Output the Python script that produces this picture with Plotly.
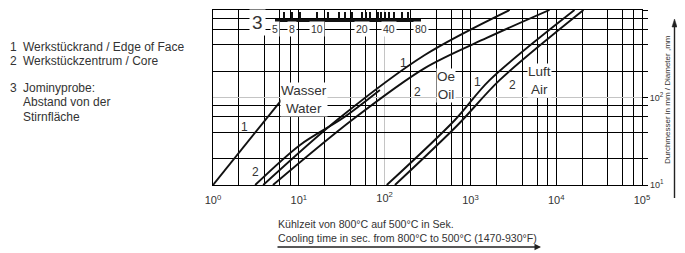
import numpy as np
import plotly.graph_objects as go

# ---------------- data ----------------
water_edge_t = [1.0, 6.4]
water_edge_d = [10, 96]
water_core_t = [3.1, 10.35, 32.7, 88.2]
water_core_d = [10, 28.7, 58.3, 122]
oil_edge_t = [3.85, 27.9, 294, 2870]
oil_edge_d = [10, 55.3, 306, 1000]
oil_core_t = [5.0, 41.7, 294, 1549, 8360]
oil_core_d = [10, 55.3, 217, 479, 1000]
air_edge_t = [106, 656, 1675, 16330]
air_edge_d = [10, 55, 158, 1000]
air_core_t = [132, 711, 2190, 20800]
air_core_d = [10, 48.5, 158, 1000]

# Jominy scale: cooling time position of each tick and its label (mm)
jominy_t = [5.3, 6.8, 8.3, 10.4, 16.2, 21.7, 29.4, 34.6, 41.3, 54, 60, 67.5,
            84, 90.6, 101, 112, 128, 158, 185, 269]
jominy_lbl = ["5", "", "8", "", "10", "", "", "", "", "20", "", "",
              "", "", "", "40", "", "", "", "80"]

x_decades = [1, 10, 100, 1000, 10000, 100000]
y_decades = [10, 100, 1000]
grid_mult = [2, 4, 6, 8]

# ---------------- figure ----------------
OFF = 8  # page body margin of the html page
W, H = 685, 253
L, R, T, B = 213 - OFF, 685 - 642 + OFF, 10 - OFF, 253 - 185 + OFF
PW, PH = W - L - R, H - T - B


def px(xp):
    return (xp - OFF - L) / PW


def py(yp):
    return (H - B - (yp - OFF)) / PH


fig = go.Figure()
line_style = dict(color="#111111", width=1.9, shape="spline", smoothing=0.9)
for t, d in [(water_edge_t, water_edge_d), (water_core_t, water_core_d),
             (oil_edge_t, oil_edge_d), (oil_core_t, oil_core_d),
             (air_edge_t, air_edge_d), (air_core_t, air_core_d)]:
    fig.add_trace(go.Scatter(x=t, y=d, mode="lines", line=line_style,
                             showlegend=False, hoverinfo="skip"))

# helper traces for extra axes
fig.add_trace(go.Scatter(x=[None], y=[None], xaxis="x2", yaxis="y", showlegend=False))
fig.add_trace(go.Scatter(x=[None], y=[None], xaxis="x3", yaxis="y", showlegend=False))
fig.add_trace(go.Scatter(x=[None], y=[None], xaxis="x", yaxis="y3", showlegend=False))

x_vals, x_txt = [], []
for dec in x_decades:
    if dec != 100:
        x_vals.append(dec)
        x_txt.append("10<sup>%d</sup>" % int(round(np.log10(dec))))
    if dec < 100000:
        for m in grid_mult:
            x_vals.append(dec * m)
            x_txt.append("")

y_vals, y_txt = [], []
for dec in y_decades:
    if dec != 100:
        y_vals.append(dec)
        y_txt.append("10<sup>%d</sup>" % int(round(np.log10(dec))))
    if dec < 1000:
        for m in grid_mult:
            y_vals.append(dec * m)
            y_txt.append("")

font_main = "Liberation Sans, Arial, sans-serif"
grid_col = "#000000"
light_col = "#c4c4c4"

jmin, jmax = np.log10(min(jominy_t)), np.log10(max(jominy_t))

fig.update_layout(
    width=W, height=H,
    margin=dict(l=L, r=R, t=T, b=B, pad=0),
    paper_bgcolor="white", plot_bgcolor="rgba(0,0,0,0)",
    font=dict(family=font_main, color="#333333", size=11),
    xaxis=dict(type="log", range=[0, 5], tickmode="array", tickvals=x_vals,
               ticktext=x_txt, showgrid=True, gridcolor=grid_col, gridwidth=1.4,
               showline=True, mirror=True, linecolor=grid_col, linewidth=1.4,
               ticks="", zeroline=False, tickfont=dict(size=11),
               ticklabelstandoff=5),
    xaxis3=dict(type="log", range=[0, 5], overlaying="x", anchor="y", side="bottom",
                tickmode="array", tickvals=[100], ticktext=["10<sup>2</sup>"],
                showgrid=True, gridcolor=light_col, gridwidth=1.4, ticks="",
                zeroline=False, tickfont=dict(size=11), ticklabelstandoff=5),
    yaxis=dict(type="log", range=[1, 3], side="right", tickmode="array",
               tickvals=y_vals, ticktext=y_txt, showgrid=True, gridcolor=grid_col,
               gridwidth=1.4, showline=True, mirror=True, linecolor=grid_col,
               linewidth=1.4, ticks="outside", ticklen=5, tickcolor=grid_col,
               tickwidth=1.2, zeroline=False, tickfont=dict(size=9)),
    yaxis3=dict(type="log", range=[1, 3], overlaying="y", anchor="x", side="right",
                tickmode="array", tickvals=[100], ticktext=["10<sup>2</sup>"],
                showgrid=True, gridcolor=light_col, gridwidth=1.4, ticks="outside",
                ticklen=5, tickcolor=grid_col, tickwidth=1.2, zeroline=False,
                tickfont=dict(size=9)),
    xaxis2=dict(type="log", range=[jmin, jmax], domain=[jmin / 5, jmax / 5],
                anchor="free", position=py(20), side="bottom",
                tickmode="array", tickvals=jominy_t, showticklabels=False,
                showgrid=False, showline=True, linecolor="#111111", linewidth=2.6,
                ticks="inside", ticklen=7, tickwidth=1.5, tickcolor="#111111",
                zeroline=False),
)

ann = []


def text(x, y, s, size=11, xanchor="left", xref="paper", yref="paper", **kw):
    ann.append(dict(x=x, y=y, text=s, xref=xref, yref=yref, showarrow=False,
                    xanchor=xanchor, yanchor="middle",
                    font=dict(size=size, color="#333333", family=font_main), **kw))


# Jominy scale labels (placed on the scale's positions, white backed)
for t, lbl in zip(jominy_t, jominy_lbl):
    if lbl:
        text(np.log10(t), py(29), lbl, size=10.5, xanchor="center", xref="x",
             bgcolor="white", borderpad=1)

# left legend block
text(-2, py(14), "10<sup>-2</sup>", size=11.5, xanchor="center", xref="x")
text(-1, py(14), "10<sup>-1</sup>", size=11.5, xanchor="center", xref="x")
text(px(8), py(47), "1", size=12)
text(px(21), py(47), "Werkstückrand / Edge of Face", size=12)
text(px(8), py(61), "2", size=12)
text(px(21), py(61), "Werkstückzentrum / Core", size=12)
text(px(8), py(88), "3", size=12)
text(px(21), py(88), "Jominyprobe:", size=12)
text(px(21), py(102), "Abstand von der", size=12)
text(px(21), py(117), "Stirnfläche", size=12)

# curve labels
text(px(280), py(100), "Wasser<br>Water", size=13.5, bgcolor="white", borderpad=0)
text(px(436), py(85), "Oe<br>Oil", size=13.5, bgcolor="white", borderpad=0)
text(px(527), py(80), "Luft<br>Air", size=13.5, bgcolor="white", borderpad=0)
text(px(244), py(127), "1", size=12, xanchor="center")
text(px(255), py(172), "2", size=12, xanchor="center")
text(px(403), py(63), "1", size=12, xanchor="center")
text(px(417), py(92), "2", size=12, xanchor="center")
text(px(477), py(82), "1", size=12, xanchor="center")
text(px(512), py(85), "2", size=12, xanchor="center")
text(px(257), py(22), "3", size=19, xanchor="center", bgcolor="white", borderpad=2)

# axis titles
text(px(276), py(224), "Kühlzeit von 800°C auf 500°C in Sek.", size=10.6)
text(px(276), py(238), "Cooling time in sec. from 800°C to 500°C (1470-930°F)", size=10.6)
ann.append(dict(x=px(541), y=py(247), xref="paper", yref="paper", text="",
                showarrow=True, ax=-265, ay=0, arrowhead=2, arrowsize=1,
                arrowwidth=1.3, arrowcolor="#222222"))
ann.append(dict(x=px(668), y=py(100), xref="paper", yref="paper",
                text="Durchmesser in mm / Diameter ,mm", showarrow=False,
                textangle=-90, xanchor="center", yanchor="middle",
                font=dict(size=8, color="#333333", family=font_main)))
fig.update_layout(annotations=ann)

# vertical arrow beside the diameter title (shaft + head)
ax_x = px(674.5)
fig.add_shape(type="line", xref="paper", yref="paper", x0=ax_x, x1=ax_x,
              y0=py(198), y1=py(25), line=dict(color="#222222", width=1.4))
fig.add_shape(type="path", xref="paper", yref="paper",
              path="M %f,%f L %f,%f L %f,%f Z" % (ax_x - 2.5 / PW, py(27),
                                                  ax_x + 2.5 / PW, py(27),
                                                  ax_x, py(19)),
              fillcolor="#222222", line=dict(color="#222222", width=0.5))

fig.write_html("out.html")
